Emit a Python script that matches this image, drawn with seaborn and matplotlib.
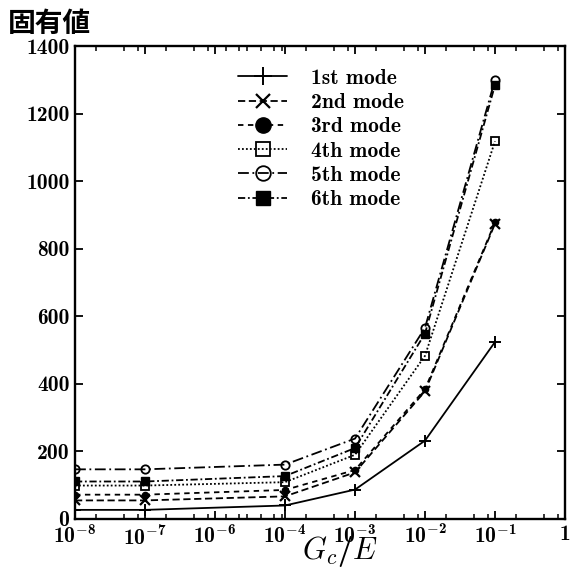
import numpy as np
import pandas as pd
import matplotlib
matplotlib.use("Agg")
import matplotlib.pyplot as plt
import matplotlib.ticker as mticker
import seaborn as sns

# ---- data ----
gc_e = [1e-8, 1e-7, 1e-4, 1e-3, 1e-2, 1e-1]
mode1 = [27, 27, 40, 87, 232, 524]
mode2 = [55, 55, 67, 138, 378, 874]
mode3 = [72, 72, 86, 145, 384, 878]
mode4 = [99, 99, 109, 190, 483, 1118]
mode5 = [147, 147, 161, 238, 566, 1300]
mode6 = [111, 111, 127, 210, 549, 1284]
mode_labels = ["1st mode", "2nd mode", "3rd mode", "4th mode", "5th mode", "6th mode"]
xtick_vals = [1e-8, 1e-7, 1e-6, 1e-4, 1e-3, 1e-2, 1e-1, 1]
xtick_labels = [r"$10^{-8}$", r"$10^{-7}$", r"$10^{-6}$", r"$10^{-4}$",
                r"$10^{-3}$", r"$10^{-2}$", r"$10^{-1}$", r"$1$"]
ytick_vals = [0, 200, 400, 600, 800, 1000, 1200, 1400]
title_text = "固有値"
xlabel_text = r"$G_c/E$"

sns.set_theme(style="ticks")
plt.rcParams["mathtext.fontset"] = "custom"
plt.rcParams["mathtext.rm"] = "cmb10"
plt.rcParams["mathtext.it"] = "cmmi10"
plt.rcParams["mathtext.bf"] = "cmb10"
plt.rcParams["mathtext.fallback"] = "cm"
plt.rcParams["axes.formatter.use_mathtext"] = True
plt.rcParams["font.family"] = ["cmb10", "DejaVu Serif"]

fig = plt.figure(figsize=(5.73, 5.70), dpi=100)
ax = fig.add_axes([75 / 573, 51 / 570, 490 / 573, 473 / 570])


# compressed log axis: the decade 1e-6..1e-4 occupies one slot
def fwd(x):
    x = np.asarray(x, dtype=float)
    l = np.log10(np.clip(x, 1e-300, None))
    return np.where(l <= -6, l + 8, np.where(l <= -4, 2 + (l + 6) / 2, l + 7))


def inv(p):
    p = np.asarray(p, dtype=float)
    return np.where(p <= 2, 10 ** (p - 8),
                    np.where(p <= 3, 10 ** (2 * (p - 2) - 6), 10 ** (p - 7)))


ax.set_xscale("function", functions=(fwd, inv))

styles = [
    dict(ls="-", marker="+", mfc="black", ms=9, mew=1.4, z=3, lms=13),
    dict(ls=(0, (4, 2)), marker="x", mfc="black", ms=6.5, mew=1.6, z=4, lms=10),
    dict(ls=(0, (3, 2.5)), marker="o", mfc="black", ms=4.5, mew=1.0, z=3, lms=11),
    dict(ls=(0, (1, 1.2)), marker="s", mfc="none", ms=6, mew=1.3, z=3, lms=10),
    dict(ls=(0, (6, 2, 1, 2)), marker="o", mfc="none", ms=6, mew=1.3, z=3, lms=10.5),
    dict(ls=(0, (4, 1.5, 1, 1.5)), marker="s", mfc="black", ms=6, mew=1.0, z=3, lms=10),
]
series = [mode1, mode2, mode3, mode4, mode5, mode6]
for vals, lab, st in zip(series, mode_labels, styles):
    df = pd.DataFrame({"x": gc_e, "y": vals})
    sns.lineplot(data=df, x="x", y="y", ax=ax, color="black", lw=1.3,
                 linestyle=st["ls"], marker=st["marker"], markersize=st["ms"],
                 markerfacecolor=st["mfc"], markeredgecolor="black",
                 markeredgewidth=st["mew"], label=lab, sort=False,
                 estimator=None, zorder=st["z"])

ax.set_xlim(1e-8, 1)
ax.set_ylim(0, 1400)
ax.xaxis.set_major_locator(mticker.FixedLocator(xtick_vals))
ax.xaxis.set_major_formatter(mticker.FixedFormatter(xtick_labels))
ax.xaxis.set_minor_locator(mticker.LogLocator(base=10, subs=(2, 5, 8), numticks=50))
ax.xaxis.set_minor_formatter(mticker.NullFormatter())
ax.yaxis.set_major_locator(mticker.FixedLocator(ytick_vals))
ax.set_yticklabels([str(v) for v in ytick_vals])
ax.yaxis.set_minor_locator(mticker.NullLocator())

ax.tick_params(which="both", direction="in", top=True, right=True,
               color="black", labelcolor="black", labelsize=15.5)
ax.tick_params(which="major", length=6, width=1.3, pad=4)
ax.tick_params(which="minor", length=3.5, width=1.1)
for lab in ax.get_yticklabels():
    lab.set_family(["cmb10", "DejaVu Serif"])
for sp in ax.spines.values():
    sp.set_linewidth(1.7)
    sp.set_color("black")
ax.set_facecolor("white")
ax.grid(False)

ax.set_ylabel("")
ax.set_xlabel(xlabel_text, fontsize=22, color="black", labelpad=0)
ax.xaxis.set_label_coords(0.54, -0.031)

leg = ax.legend(loc="upper left", bbox_to_anchor=(0.315, 0.97), frameon=False,
                fontsize=15.5, handlelength=2.3, handletextpad=1.1,
                labelspacing=0.24, markerscale=1.0, borderaxespad=0)
for t in leg.get_texts():
    t.set_family(["cmb10", "DejaVu Serif"])
    t.set_color("black")
for h, st in zip(leg.legend_handles, styles):
    h.set_markersize(st["lms"])

fig.text(0.014, 0.982, title_text, family=["Noto Sans CJK JP", "DejaVu Sans"],
         fontweight="bold", fontsize=20, va="top", ha="left", color="black")

fig.savefig("out.png", dpi=100, facecolor="white")
